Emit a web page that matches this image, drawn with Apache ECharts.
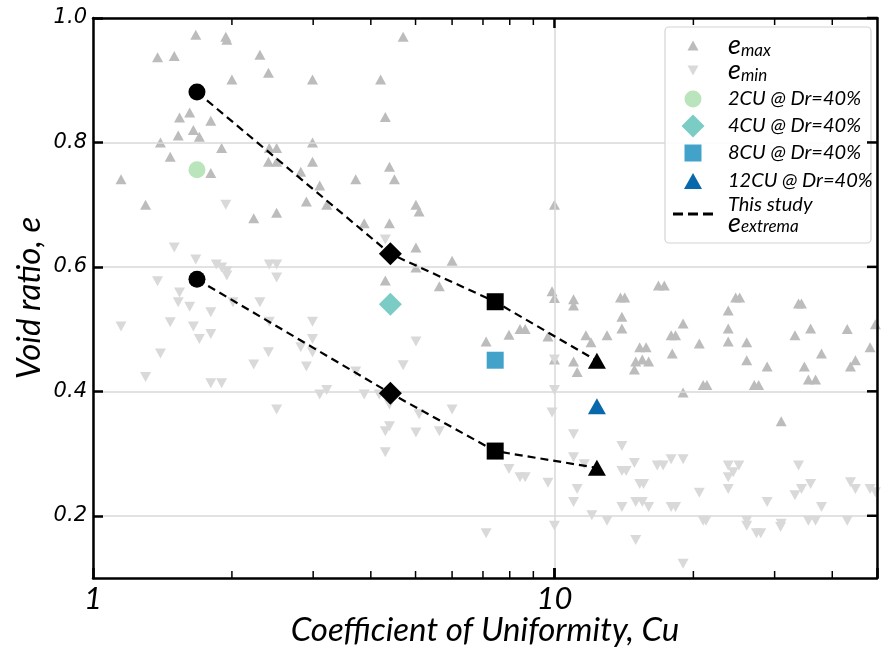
<!DOCTYPE html>
<html><head><meta charset="utf-8">
<script src="https://cdn.jsdelivr.net/npm/echarts@6/dist/echarts.min.js"></script>
<style>html,body{margin:0;padding:0;background:#fff}#c{width:881px;height:648px}</style>
</head><body><div id="c"></div>
<script>
// ---- data ----
const emaxPts = [[1.15,0.741],[1.30,0.700],[1.38,0.937],[1.40,0.800],[1.47,0.777],[1.50,0.939],[1.53,0.811],[1.54,0.840],[1.62,0.848],[1.65,0.820],[1.67,0.973],[1.70,0.809],[1.80,0.835],[1.80,0.751],[1.90,0.791],[1.94,0.970],[1.95,0.965],[2.00,0.901],[2.23,0.678],[2.30,0.941],[2.40,0.912],[2.41,0.791],[2.50,0.791],[2.40,0.769],[2.50,0.769],[2.50,0.687],[2.82,0.753],[2.90,0.705],[2.99,0.901],[2.99,0.800],[2.99,0.769],[3.10,0.731],[3.21,0.700],[3.71,0.741],[3.87,0.670],[4.20,0.901],[4.30,0.841],[4.30,0.578],[4.39,0.761],[4.39,0.670],[4.50,0.741],[4.70,0.970],[5.01,0.700],[5.09,0.689],[5.01,0.631],[5.01,0.599],[5.63,0.569],[6.00,0.610],[7.11,0.480],[7.97,0.491],[8.42,0.500],[8.64,0.500],[9.68,0.488],[9.88,0.561],[10.0,0.700],[10.0,0.550],[10.0,0.451],[11.0,0.548],[11.0,0.538],[11.0,0.448],[11.2,0.431],[11.7,0.490],[12.0,0.479],[13.0,0.490],[13.9,0.551],[14.2,0.551],[14.0,0.520],[14.0,0.501],[14.9,0.435],[15.0,0.448],[15.3,0.471],[15.5,0.451],[15.8,0.471],[16.0,0.448],[16.8,0.570],[17.3,0.570],[17.9,0.490],[18.0,0.461],[18.3,0.490],[19.0,0.509],[19.0,0.398],[20.6,0.477],[21.0,0.410],[21.4,0.410],[23.8,0.530],[23.8,0.501],[23.8,0.480],[24.7,0.551],[25.2,0.551],[26.1,0.479],[26.1,0.450],[27.1,0.410],[27.7,0.410],[28.9,0.440],[31.0,0.352],[33.2,0.490],[33.8,0.541],[34.3,0.541],[34.8,0.440],[35.5,0.419],[35.9,0.501],[36.8,0.419],[37.9,0.461],[43.1,0.500],[43.8,0.440],[44.9,0.450],[48.3,0.471],[49.6,0.508]];
const eminPts = [[1.15,0.504],[1.30,0.423],[1.38,0.577],[1.40,0.461],[1.47,0.511],[1.50,0.631],[1.53,0.543],[1.54,0.559],[1.62,0.536],[1.65,0.504],[1.67,0.612],[1.70,0.484],[1.80,0.527],[1.80,0.492],[1.80,0.413],[1.85,0.604],[1.90,0.599],[1.90,0.413],[1.94,0.700],[1.95,0.593],[1.95,0.586],[2.01,0.543],[2.23,0.443],[2.30,0.543],[2.40,0.463],[2.41,0.604],[2.41,0.512],[2.50,0.604],[2.50,0.583],[2.50,0.371],[2.82,0.471],[2.90,0.440],[2.99,0.512],[2.99,0.484],[2.99,0.463],[3.10,0.395],[3.21,0.402],[3.71,0.432],[3.87,0.395],[4.17,0.395],[4.30,0.644],[4.30,0.336],[4.30,0.302],[4.39,0.379],[4.39,0.344],[4.70,0.442],[5.01,0.480],[5.01,0.334],[5.09,0.363],[5.63,0.336],[6.00,0.371],[7.11,0.172],[7.97,0.275],[8.42,0.262],[8.64,0.262],[9.68,0.253],[9.88,0.366],[10.0,0.451],[10.0,0.402],[10.0,0.184],[11.0,0.331],[11.0,0.294],[11.2,0.243],[11.0,0.222],[11.6,0.283],[12.05,0.201],[13.0,0.192],[14.0,0.312],[14.0,0.272],[14.3,0.272],[14.0,0.214],[14.9,0.285],[15.0,0.222],[15.0,0.161],[15.3,0.251],[15.5,0.222],[15.6,0.251],[16.0,0.214],[16.7,0.281],[17.2,0.281],[17.9,0.291],[17.9,0.214],[18.3,0.214],[19.0,0.291],[19.0,0.123],[20.6,0.237],[21.0,0.192],[21.3,0.192],[23.8,0.281],[23.8,0.262],[23.8,0.243],[24.4,0.270],[25.1,0.281],[26.1,0.192],[26.1,0.184],[27.4,0.172],[28.0,0.172],[28.9,0.222],[30.9,0.182],[31.0,0.187],[33.2,0.233],[33.8,0.281],[34.3,0.243],[35.5,0.192],[35.9,0.251],[36.8,0.192],[37.9,0.214],[43.1,0.192],[43.8,0.254],[44.9,0.243],[48.3,0.243],[49.6,0.238]];
const studyCu = [1.68, 4.41, 7.44, 12.36];
const studyUpperE = [0.881, 0.621, 0.544, 0.449];
const studyLowerE = [0.580, 0.397, 0.304, 0.277];
const drE = [0.756, 0.540, 0.450, 0.376];
const drNames = ['2CU @ Dr=40%', '4CU @ Dr=40%', '8CU @ Dr=40%', '12CU @ Dr=40%'];
const xRange = [1, 50];
const yRange = [0.1, 1.0];
const xMajorTicks = [10];
const xMinorTicks = [2, 3, 4, 5, 6, 7, 8, 9, 20, 30, 40];
const yTickLabels = [0.2, 0.4, 0.6, 0.8, 1.0];

// ---- styles ----
const drColors = ['#bae4bc', '#7bccc4', '#43a2ca', '#0868ac'];
const studySymbols = ['circle', 'diamond', 'rect', 'triangle'];
const studySizes = [17, 23, 17, [18, 16]];
const legFont = 'Lato';
const titleFont = 'Lato';
const MAJOR_LEN = 10, MAJOR_W = 2.5, MINOR_LEN = 7, MINOR_W = 1.5;

const chart = echarts.init(document.getElementById('c'), null, {renderer: 'canvas'});

const isDecade = v => Math.abs(Math.log10(v) - Math.round(Math.log10(v))) < 1e-6;

const xAxes = [
  {
    type: 'log', logBase: 10, min: xRange[0], max: xRange[1], position: 'bottom',
    axisLine: {show: true, onZero: false, lineStyle: {color: '#000', width: 2.5}},
    axisTick: {show: true, inside: true, length: MAJOR_LEN, lineStyle: {color: '#000', width: MAJOR_W}},
    axisLabel: {show: true, fontFamily: titleFont, fontStyle: 'italic', fontSize: 31, color: '#000', margin: 5,
      formatter: v => isDecade(v) ? String(Math.round(v)) : ''},
    splitLine: {show: true, lineStyle: {color: '#d9d9d9', width: 1.5}},
    name: 'Coefficient of Uniformity, Cu', nameLocation: 'middle', nameGap: 36, nameMoveOverlap: false,
    nameTextStyle: {fontFamily: titleFont, fontStyle: 'italic', fontSize: 33, color: '#000'},
    z: 3
  },
  {
    type: 'log', logBase: 10, min: xRange[0], max: xRange[1], position: 'top',
    axisLine: {show: true, onZero: false, lineStyle: {color: '#000', width: 2.5}},
    axisTick: {show: false}, axisLabel: {show: false}, splitLine: {show: false}, z: 3
  }
];
const yAxes = [
  {
    type: 'value', min: yRange[0], max: yRange[1], position: 'left',
    axisLine: {show: true, onZero: false, lineStyle: {color: '#000', width: 2.5}},
    axisTick: {show: true, inside: true, length: MAJOR_LEN, lineStyle: {color: '#000', width: MAJOR_W}, customValues: yTickLabels},
    axisLabel: {show: true, customValues: yTickLabels, fontFamily: 'DejaVu Sans', fontStyle: 'italic', fontSize: 21, color: '#000', margin: 6, formatter: v => v.toFixed(1)},
    splitLine: {show: true, lineStyle: {color: '#d9d9d9', width: 1.5}},
    name: 'Void ratio, e', nameLocation: 'middle', nameGap: 47, nameMoveOverlap: false,
    nameTextStyle: {fontFamily: titleFont, fontStyle: 'italic', fontSize: 33, color: '#000'},
    z: 3
  },
  {
    type: 'value', min: yRange[0], max: yRange[1], position: 'right',
    axisLine: {show: true, onZero: false, lineStyle: {color: '#000', width: 2.5}},
    axisTick: {show: false}, axisLabel: {show: false}, splitLine: {show: false}, z: 3
  }
];

const series = [
  {name: 'emax', type: 'scatter', data: emaxPts, symbol: 'triangle', symbolSize: [11, 10],
   itemStyle: {color: '#bcbcbc', opacity: 1}, z: 2, silent: true},
  {name: 'emin', type: 'scatter', data: eminPts, symbol: 'triangle', symbolRotate: 180, symbolSize: [11, 10],
   itemStyle: {color: '#d9d9d9', opacity: 1}, z: 2, silent: true}
];
drNames.forEach((n, i) => {
  series.push({name: n, type: 'scatter', data: [[studyCu[i], drE[i]]], symbol: studySymbols[i],
    symbolSize: studySizes[i], itemStyle: {color: drColors[i], opacity: 1}, z: 4, silent: true});
});
[studyUpperE, studyLowerE].forEach(arr => {
  series.push({
    name: 'This study', type: 'line', z: 5, silent: true,
    data: studyCu.map((c, i) => ({value: [c, arr[i]], symbol: studySymbols[i], symbolSize: studySizes[i]})),
    itemStyle: {color: '#000', opacity: 1},
    lineStyle: {color: '#000', width: 2.2, type: [8, 5]},
    showAllSymbol: true
  });
});

// tick marks the axes cannot draw themselves (log minor ticks, mirrored ticks on top / right),
// drawn as thin rectangles anchored on the axes through the chart's own scales
function tickMarks(name, pts, size, offset) {
  return {name: name, type: 'scatter', data: pts, symbol: 'rect', symbolSize: size, symbolOffset: offset,
    itemStyle: {color: '#000', opacity: 1}, z: 6, silent: true, clip: false};
}
series.push(tickMarks('minor ticks bottom', xMinorTicks.map(v => [v, yRange[0]]), [MINOR_W, MINOR_LEN], [0, -MINOR_LEN / 2]));
series.push(tickMarks('minor ticks top', xMinorTicks.map(v => [v, yRange[1]]), [MINOR_W, MINOR_LEN], [0, MINOR_LEN / 2]));
series.push(tickMarks('major ticks top', xMajorTicks.map(v => [v, yRange[1]]), [MAJOR_W, MAJOR_LEN], [0, MAJOR_LEN / 2]));
series.push(tickMarks('major ticks bottom', xMajorTicks.map(v => [v, yRange[0]]), [MAJOR_W, MAJOR_LEN], [0, -MAJOR_LEN / 2]));
series.push(tickMarks('ticks right', yTickLabels.map(v => [xRange[1], v]), [MAJOR_LEN, MAJOR_W], [-MAJOR_LEN / 2, 0]));

// ---- legend (one per row so icon sizes can differ) ----
const legRows = [
  {name: 'emax', icon: 'triangle', w: 11, h: 10, cy: 45, boxH: 26},
  {name: 'emin', icon: 'path://M0,0L10,0L5,9Z', w: 11, h: 10, cy: 70, boxH: 26},
  {name: drNames[0], icon: 'circle', w: 17, h: 17, cy: 99, boxH: 22},
  {name: drNames[1], icon: 'diamond', w: 23, h: 23, cy: 126, boxH: 23},
  {name: drNames[2], icon: 'rect', w: 17, h: 17, cy: 153, boxH: 22},
  {name: drNames[3], icon: 'triangle', w: 18, h: 16, cy: 181, boxH: 22},
  {name: 'This study', icon: 'path://M0,0h10v3h-10zM15,0h10v3h-10zM30,0h10v3h-10z', w: 40, h: 3, cy: 215, boxH: 40}
];
const iconCx = 693, textX = 728;
const rich = {
  e: {fontFamily: legFont, fontStyle: 'italic', fontSize: 27, lineHeight: 22, color: '#000', verticalAlign: 'middle'},
  s: {fontFamily: legFont, fontStyle: 'italic', fontSize: 17, lineHeight: 16, padding: [10, 0, 0, 0], color: '#000', verticalAlign: 'middle'},
  t: {fontFamily: legFont, fontStyle: 'italic', fontSize: 20, lineHeight: 18, color: '#000'},
  e2: {fontFamily: legFont, fontStyle: 'italic', fontSize: 27, lineHeight: 18, color: '#000', verticalAlign: 'middle'},
  s2: {fontFamily: legFont, fontStyle: 'italic', fontSize: 17, lineHeight: 14, padding: [8, 0, 0, 0], color: '#000', verticalAlign: 'middle'}
};
function fmt(name) {
  if (name === 'emax') return '{e|e}{s|max}';
  if (name === 'emin') return '{e|e}{s|min}';
  if (name === 'This study') return '{t|This study}\n{e2|e}{s2|extrema}';
  return name;
}
const legends = legRows.map(r => ({
  data: [{name: r.name, icon: r.icon}],
  left: iconCx - r.w / 2,
  top: r.cy - r.boxH / 2,
  itemWidth: r.w, itemHeight: r.h,
  padding: 0, selectedMode: false,
  formatter: fmt,
  textStyle: {fontFamily: legFont, fontStyle: 'italic', fontSize: 20, lineHeight: 22, color: '#000',
    padding: [0, 0, 0, textX - iconCx - r.w / 2 - 5], rich: rich},
  z: 6
}));

chart.setOption({
  animation: false,
  backgroundColor: '#fff',
  grid: {left: 93, right: 4, top: 18, bottom: 70, containLabel: false, outerBoundsMode: 'none'},
  xAxis: xAxes,
  yAxis: yAxes,
  legend: legends,
  graphic: [{type: 'rect', shape: {x: 665, y: 27, width: 206, height: 216, r: 4}, z: 4,
    style: {fill: 'rgba(255,255,255,0.9)', stroke: '#d4d4d4', lineWidth: 1.2}}],
  series: series
});
</script>
</body></html>
